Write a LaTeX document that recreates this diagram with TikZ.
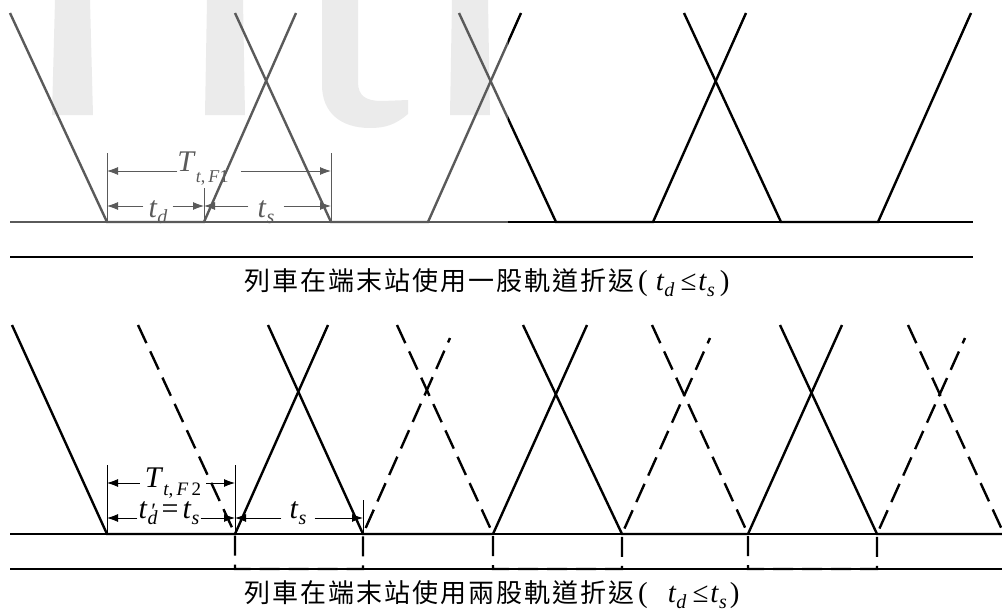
\documentclass[tikz,border=0pt]{standalone}
\usepackage{fontspec}
\setmainfont{Liberation Serif}
\newfontfamily\cjk{Noto Sans CJK TC}
\usetikzlibrary{arrows.meta}
\definecolor{wm}{HTML}{EBEBEB}
\definecolor{fade}{HTML}{5A5A5A}
% italic letter with lowered subscript
\newcommand{\sbs}[2]{\textit{#1}\raisebox{-6pt}{\fontsize{20}{20}\selectfont\textit{#2}}}
% one CJK character in a fixed 28pt cell
\newcommand{\cjs}[1]{\makebox[28pt]{\fontsize{26}{26}\cjk #1}}
\tikzset{
  train/.style={line width=2.4pt},
  dsh/.style={train, dash pattern=on 20pt off 9pt},
  base/.style={line width=1.1pt},
  dim/.style={line width=0.9pt, -{Latex[length=11pt,width=8pt]}},
  ext/.style={line width=0.8pt},
  lab/.style={font=\fontsize{30}{30}\selectfont, anchor=base, inner ysep=0pt},
  captxt/.style={font=\fontsize{29}{29}\selectfont, anchor=base west, inner sep=0pt},
}
\newcommand{\toplines}{%
  \draw[base] (tl1) -- (tr1);
  \draw[train] (a0) -- (a1) -- (a2) -- (a3);
  \draw[train] (b0) -- (b1) -- (b2) -- (b3);
  \draw[train] (c0) -- (c1) -- (c2) -- (c3);
  \draw[train] (d0) -- (d1) -- (d2) -- (d3);
}
\begin{document}
\begin{tikzpicture}[x=1pt,y=-1pt]
\useasboundingbox (0,0) rectangle (1002,616);
% watermark
\fill[wm] (55,0) -- (90,0) -- (93,115) -- (52,115) -- cycle;
\fill[wm] (207,0) -- (243,0) -- (245,115) -- (205,115) -- cycle;
\fill[wm] (322,0) -- (358,0) -- (358,82) .. controls (358,96) and (366,101) .. (382,101) -- (408,100) -- (408,114) .. controls (395,125) and (385,128) .. (370,128) .. controls (340,128) and (322,112) .. (322,85) -- cycle;
\fill[wm] (452,0) -- (488,0) -- (490,115) -- (450,115) -- cycle;

% ---------- top panel ----------
\coordinate (tl1) at (10,222); \coordinate (tr1) at (973,222);
\coordinate (tl2) at (10,257); \coordinate (tr2) at (973,257);
\coordinate (a0) at (10,13);  \coordinate (a1) at (107,222); \coordinate (a2) at (204,222); \coordinate (a3) at (296,13);
\coordinate (b0) at (235,13); \coordinate (b1) at (331,222); \coordinate (b2) at (428,222); \coordinate (b3) at (521,13);
\coordinate (c0) at (459,13); \coordinate (c1) at (556,222); \coordinate (c2) at (653,222); \coordinate (c3) at (746,13);
\coordinate (d0) at (684,13); \coordinate (d1) at (781,222); \coordinate (d2) at (878,222); \coordinate (d3) at (971,13);
\begin{scope}
  \clip (0,0) rectangle (508,240);
  \begin{scope}[color=fade] \toplines \end{scope}
\end{scope}
\begin{scope}
  \clip (508,0) rectangle (1002,240);
  \begin{scope}[color=black] \toplines \end{scope}
\end{scope}
\draw[base] (tl2) -- (tr2);

% dimensions top
\begin{scope}[color=fade]
  \coordinate (e1) at (107,153); \coordinate (e2) at (331,153); \coordinate (e3) at (204,188);
  \draw[ext] (a1) -- (e1);
  \draw[ext] (b1) -- (e2);
  \draw[ext] (a2) -- (e3);
  \coordinate (h1l) at (107,171); \coordinate (h1r) at (331,171);
  \coordinate (h2l) at (107,206); \coordinate (h2m) at (204,206); \coordinate (h2r) at (331,206);
  \node[lab, text=fade, inner xsep=0pt] (T1) at (203,171) {\textit{T}\raisebox{-11pt}{\fontsize{18}{18}\selectfont\textit{t},\,\textit{F}1}};
  \draw[dim] (T1.west |- h1l) -- (h1l);
  \draw[dim] ([xshift=12pt]T1.east |- h1r) -- (h1r);
  \node[lab, text=fade, inner xsep=5pt] (td1) at (158,217) {\sbs{t}{d}};
  \draw[dim] (td1.west |- h2l) -- (h2l);
  \draw[dim] (td1.east |- h2m) -- (h2m);
  \node[lab, text=fade, inner xsep=9pt] (ts1) at (266,217) {\sbs{t}{s}};
  \draw[dim] (ts1.west |- h2m) -- (h2m);
  \draw[dim] (ts1.east |- h2r) -- (h2r);
\end{scope}

\node[captxt] (cap1) at (243,290) {\cjs{列}\cjs{車}\cjs{在}\cjs{端}\cjs{末}\cjs{站}\cjs{使}\cjs{用}\cjs{一}\cjs{股}\cjs{軌}\cjs{道}\cjs{折}\cjs{返}\hspace{3pt}(\hspace{8pt}\sbs{t}{d}\hspace{6pt}≤\hspace{2pt}\sbs{t}{s}\hspace{5pt})};

% ---------- bottom panel ----------
\coordinate (bl1) at (10,534); \coordinate (br1) at (1002,534);
\coordinate (bl2) at (10,569); \coordinate (br2) at (1002,569);
\draw[base] (bl1) -- (br1);
\draw[base] (bl2) -- (br2);
\coordinate (s0) at (12,325);  \coordinate (s1) at (107,534); \coordinate (s2) at (235,534); \coordinate (s3) at (328,325);
\coordinate (t0) at (268,325); \coordinate (t1) at (363,534); \coordinate (t2) at (493,534); \coordinate (t3) at (587,325);
\coordinate (u0) at (523,325); \coordinate (u1) at (622,534); \coordinate (u2) at (748,534); \coordinate (u3) at (842,325);
\coordinate (v0) at (780,325); \coordinate (v1) at (877,534); \coordinate (v2) at (1002,534);
\draw[train] (s0) -- (s1) -- (s2) -- (s3);
\draw[train] (t0) -- (t1) -- (t2) -- (t3);
\draw[train] (u0) -- (u1) -- (u2) -- (u3);
\draw[train] (v0) -- (v1) -- (v2);
% second track (dashed)
\coordinate (p0) at (138,325); \coordinate (q1) at (235,569); \coordinate (q2) at (363,569); \coordinate (p3) at (450,338);
\coordinate (r0) at (397,325); \coordinate (q3) at (493,569); \coordinate (q4) at (622,569); \coordinate (r3) at (710,338);
\coordinate (w0) at (652,325); \coordinate (q5) at (748,569); \coordinate (q6) at (877,569); \coordinate (w3) at (965,338);
\coordinate (x0) at (908,325); \coordinate (x1) at (1004,534);
\draw[dsh] (p0) -- (s2) -- (q1) -- (q2) -- (t1) -- (p3);
\draw[dsh] (r0) -- (t2) -- (q3) -- (q4) -- (u1) -- (r3);
\draw[dsh] (w0) -- (u2) -- (q5) -- (q6) -- (v1) -- (w3);
\begin{scope}
  \clip (0,300) rectangle (1002,616);
  \draw[dsh] (x0) -- (x1);
\end{scope}

% dimensions bottom
\coordinate (f1) at (107,465); \coordinate (f2) at (235,465); \coordinate (f3) at (363,500);
\draw[ext] (s1) -- (f1);
\draw[ext] (s2) -- (f2);
\draw[ext] (t1) -- (f3);
\coordinate (k1l) at (107,483); \coordinate (k1r) at (235,483);
\coordinate (k2l) at (107,518); \coordinate (k2m) at (235,518); \coordinate (k2r) at (363,518);
\node[lab, inner xsep=5pt] (T2) at (173,487) {\textit{T}\raisebox{-8pt}{\fontsize{19}{19}\selectfont\textit{t},\,\textit{F}\,2}};
\draw[dim] (T2.west |- k1l) -- (k1l);
\draw[dim] (T2.east |- k1r) -- (k1r);
\node[lab, inner xsep=1pt] (td2) at (169,518) {\textit{t}\rlap{\fontsize{22}{22}\selectfont\,′}\raisebox{-6pt}{\fontsize{20}{20}\selectfont\textit{d}}\hspace{4pt}=\hspace{4pt}\sbs{t}{s}};
\draw[dim] (td2.west |- k2l) -- (k2l);
\draw[dim] (td2.east |- k2m) -- (k2m);
\node[lab, inner xsep=8pt] (ts2) at (298,518) {\sbs{t}{s}};
\draw[dim] (ts2.west |- k2m) -- (k2m);
\draw[dim] (ts2.east |- k2r) -- (k2r);

\node[captxt] (cap2) at (243,602) {\cjs{列}\cjs{車}\cjs{在}\cjs{端}\cjs{末}\cjs{站}\cjs{使}\cjs{用}\cjs{兩}\cjs{股}\cjs{軌}\cjs{道}\cjs{折}\cjs{返}\hspace{3pt}(\hspace{20pt}\sbs{t}{d}\hspace{6pt}≤\hspace{2pt}\sbs{t}{s}\hspace{3pt})};
\end{tikzpicture}
\end{document}
